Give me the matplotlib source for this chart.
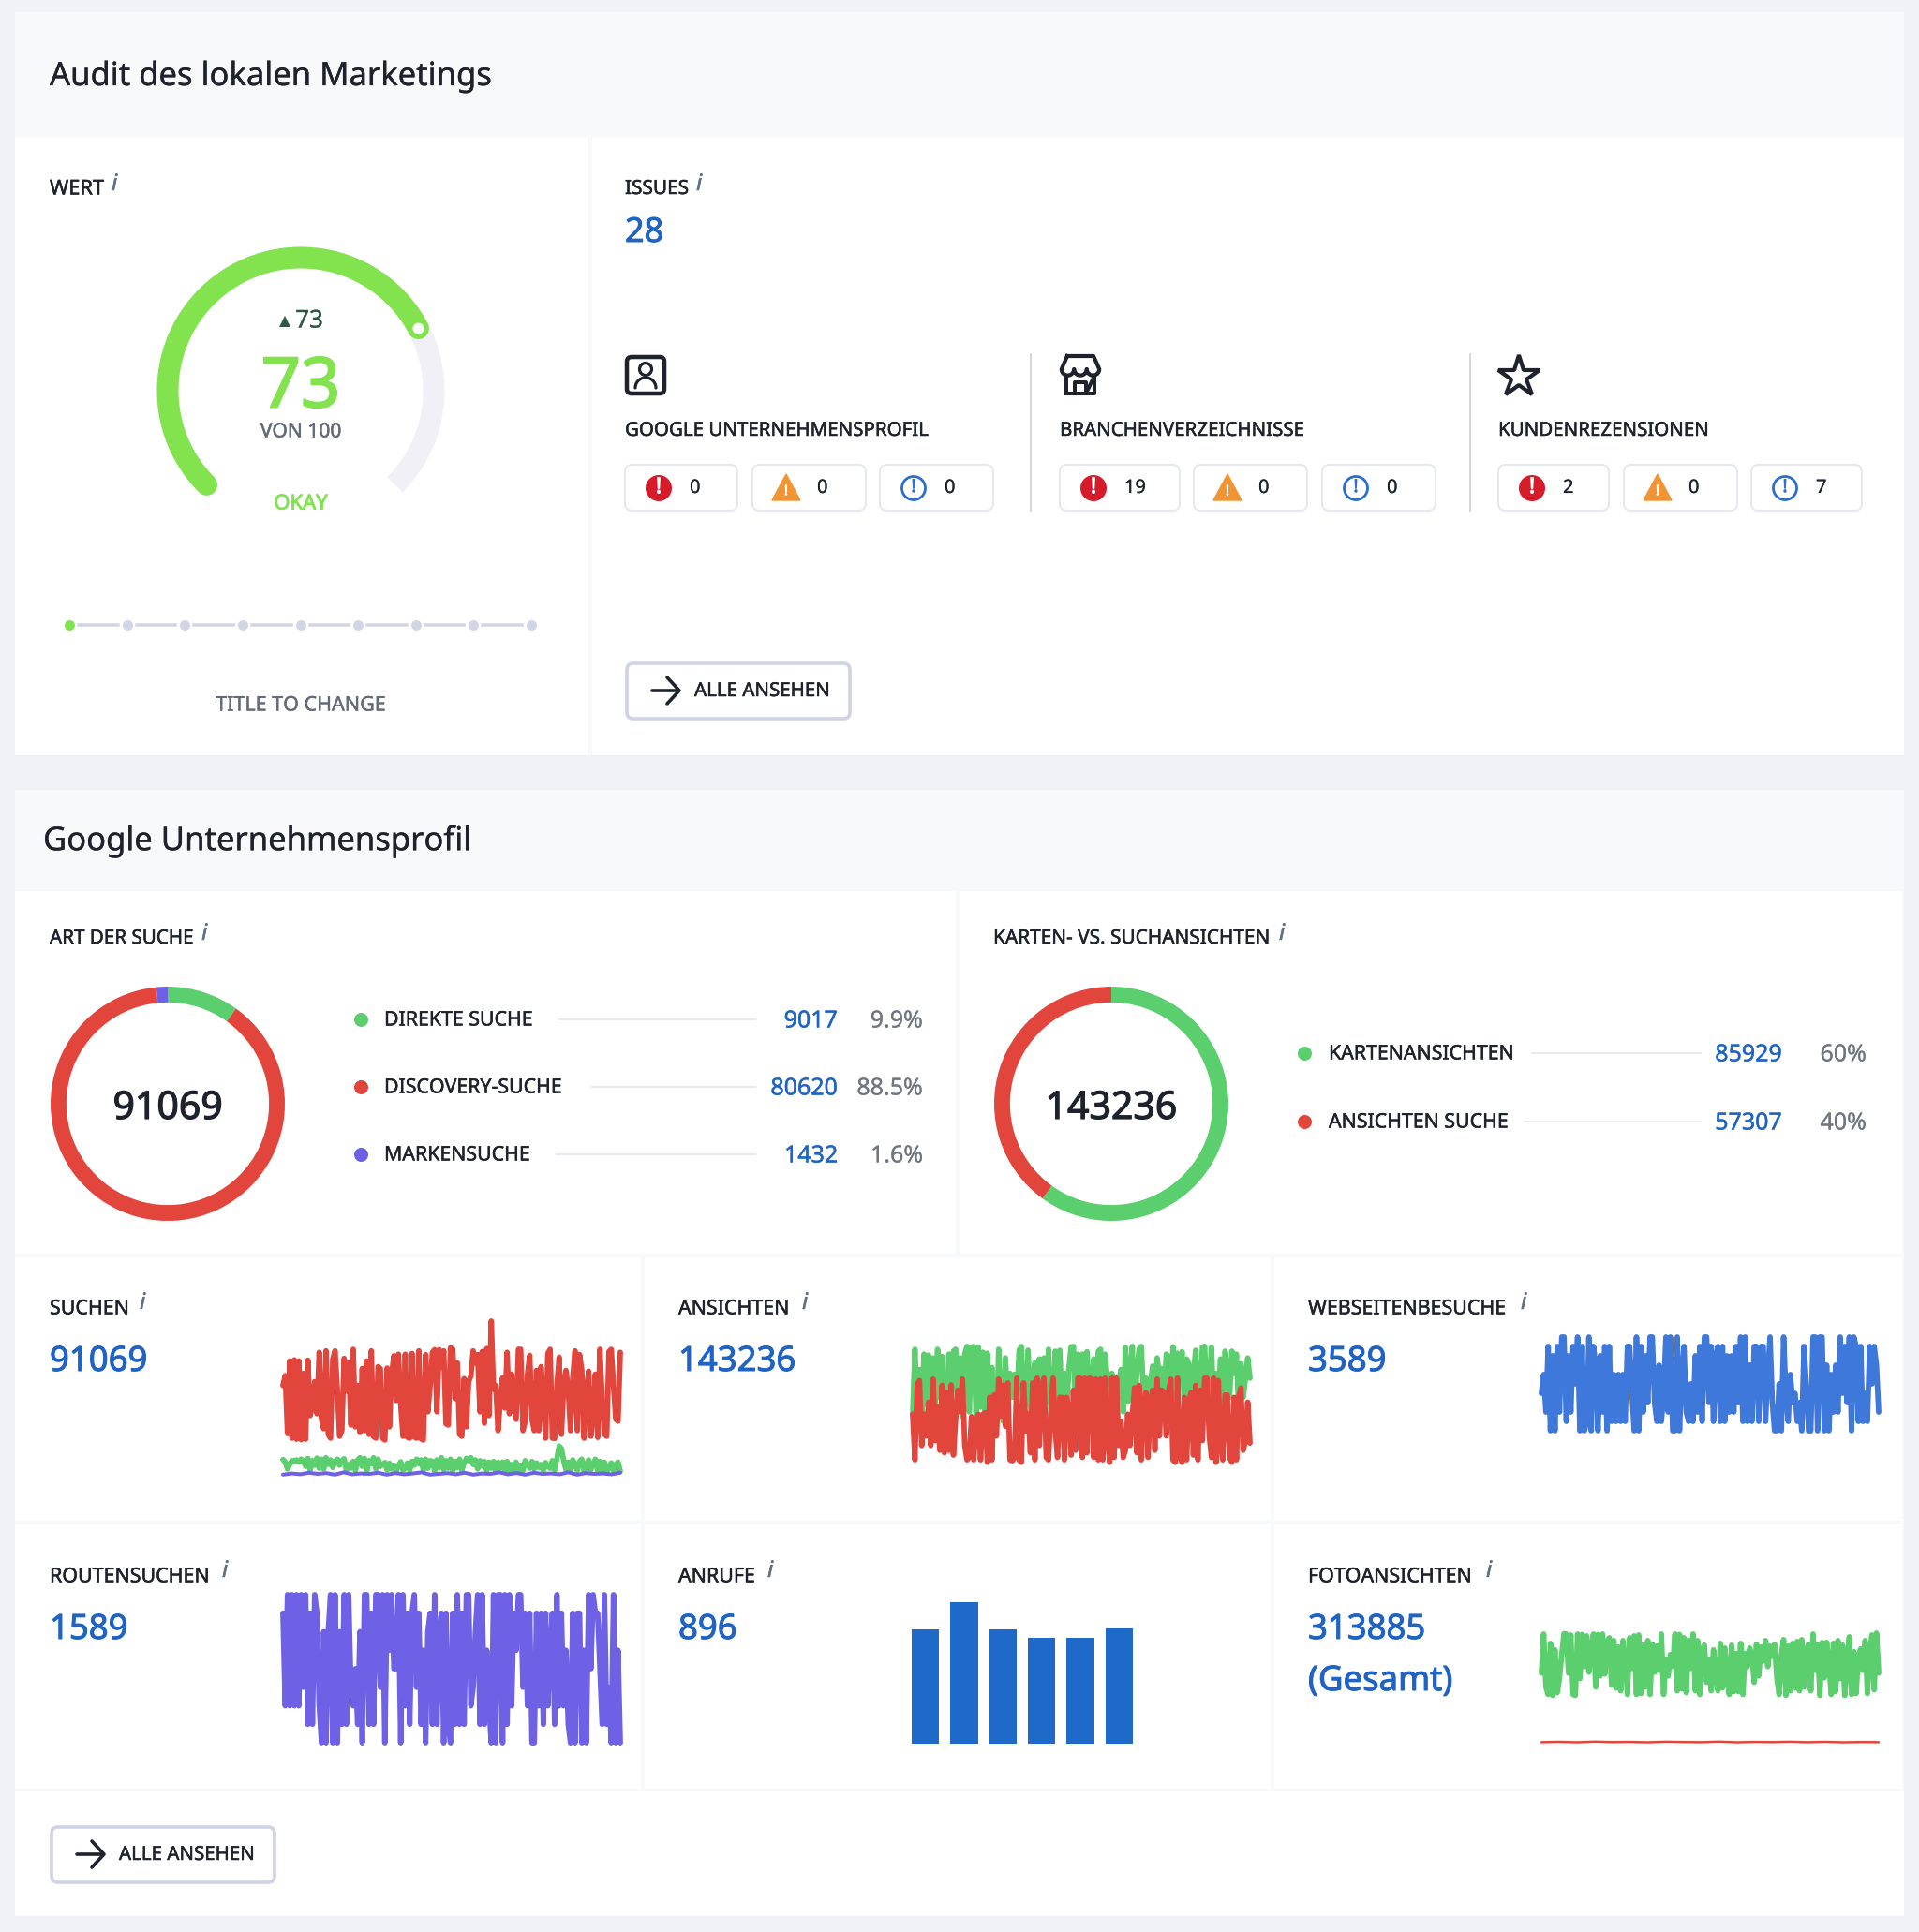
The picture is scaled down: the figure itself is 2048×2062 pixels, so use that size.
# -*- coding: utf-8 -*-
import numpy as np
import matplotlib
matplotlib.use("Agg")
import matplotlib.pyplot as plt
import matplotlib.patheffects as pe
from matplotlib.patches import FancyBboxPatch, Rectangle, Polygon, Circle

plt.rcParams['font.family'] = ['Noto Sans', 'DejaVu Sans']

# ---- data ----
score = 73
score_max = 100
issues_total = 28

issue_groups = ["GOOGLE UNTERNEHMENSPROFIL", "BRANCHENVERZEICHNISSE", "KUNDENREZENSIONEN"]
issue_counts = [[0, 0, 0], [19, 0, 0], [2, 0, 7]]

search_labels = ["DIREKTE SUCHE", "DISCOVERY-SUCHE", "MARKENSUCHE"]
search_values = [9017, 80620, 1432]
search_pct = ["9.9%", "88.5%", "1.6%"]
search_total = 91069

view_labels = ["KARTENANSICHTEN", "ANSICHTEN SUCHE"]
view_values = [85929, 57307]
view_pct = ["60%", "40%"]
view_total = 143236

calls = [147, 182, 147, 136, 136, 148]

searches_discovery = [
    240, 266, 112, 305, 100, 308, 97, 305, 96, 272, 97, 307, 160, 185, 250,
    165, 328, 150, 125, 332, 110, 100, 310, 332, 230, 105, 120, 312, 225, 300,
    135, 336, 130, 240, 115, 285, 120, 305, 110, 332, 104, 100, 290, 285, 100,
    95, 286, 130, 270, 319, 200, 323, 190, 105, 323, 102, 100, 325, 103, 100,
    332, 98, 95, 322, 170, 240, 328, 335, 170, 335, 290, 332, 138, 135, 340,
    336, 205, 300, 110, 105, 258, 130, 250, 265, 332, 300, 322, 170, 330, 140,
    338, 160, 411, 230, 240, 120, 200, 260, 180, 328, 165, 270, 210, 150, 336,
    336, 120, 145, 270, 320, 150, 120, 280, 120, 290, 200, 100, 325, 336, 100,
    99, 240, 315, 110, 240, 280, 230, 120, 260, 332, 120, 322, 280, 100, 220,
    278, 105, 170, 270, 102, 336, 200, 110, 105, 330, 336, 240, 150, 145, 328]
searches_direct = [
    43, 36, 18, 30, 40, 38, 42, 36, 44, 40, 25, 46, 15, 40, 28,
    47, 20, 44, 18, 48, 30, 42, 22, 38, 44, 28, 40, 45, 14, 30,
    20, 38, 14, 42, 48, 25, 46, 12, 40, 32, 48, 18, 44, 25, 30,
    35, 15, 33, 18, 28, 12, 26, 37, 15, 20, 34, 14, 38, 28, 44,
    32, 42, 14, 44, 20, 40, 38, 12, 42, 22, 48, 16, 40, 20, 44,
    12, 38, 22, 44, 14, 34, 46, 40, 48, 30, 42, 18, 40, 26, 38,
    14, 36, 20, 38, 12, 36, 20, 36, 14, 38, 12, 30, 16, 36, 12,
    28, 14, 40, 30, 20, 38, 18, 34, 22, 30, 14, 35, 25, 20, 40,
    14, 45, 79, 72, 40, 16, 36, 14, 42, 30, 14, 38, 44, 12, 28,
    42, 16, 30, 44, 14, 38, 10, 36, 12, 20, 34, 14, 30, 36, 12]
searches_brand = [3, 6, 4, 8, 5, 7, 3, 9, 4, 6, 5, 8, 3, 7, 4, 6, 9, 3, 5, 7,
                  4, 8, 3, 6, 5, 9, 4, 7, 3, 8, 5, 6, 4, 9, 3, 7, 5, 6, 4, 8]

views_maps = [
    165, 300, 180, 258, 170, 290, 185, 288, 190, 282, 175, 300, 200, 285, 190,
    170, 290, 190, 296, 300, 175, 282, 160, 290, 306, 170, 304, 306, 165, 305,
    180, 294, 170, 292, 160, 262, 150, 140, 300, 180, 150, 282, 170, 250, 200,
    248, 190, 298, 306, 170, 200, 298, 160, 240, 272, 170, 280, 180, 282, 190,
    300, 165, 180, 296, 190, 298, 170, 250, 170, 260, 305, 306, 170, 290, 190,
    290, 210, 295, 170, 240, 280, 170, 296, 300, 200, 290, 240, 200, 250, 190,
    180, 230, 258, 170, 304, 190, 250, 306, 170, 250, 300, 306, 200, 240, 180,
    230, 265, 180, 282, 240, 260, 175, 290, 285, 180, 305, 200, 292, 240, 295,
    180, 280, 270, 150, 245, 298, 170, 220, 305, 306, 170, 235, 304, 180, 250,
    200, 280, 180, 296, 260, 200, 296, 250, 290, 175, 270, 200, 240, 282, 240]
views_search = [
    165, 70, 226, 235, 100, 165, 120, 190, 100, 238, 110, 180, 90, 225, 85,
    210, 90, 226, 80, 155, 215, 170, 238, 100, 70, 75, 160, 70, 150, 165,
    70, 165, 168, 65, 200, 70, 205, 120, 238, 160, 225, 140, 230, 70, 68,
    75, 240, 70, 65, 230, 130, 165, 85, 230, 70, 240, 100, 225, 240, 75,
    70, 165, 240, 130, 75, 200, 200, 70, 200, 175, 80, 215, 90, 240, 240,
    75, 240, 85, 240, 238, 75, 238, 70, 238, 70, 240, 120, 65, 240, 75,
    240, 100, 150, 75, 90, 165, 100, 160, 220, 85, 225, 70, 190, 210, 75,
    190, 215, 90, 238, 120, 215, 210, 120, 210, 238, 70, 65, 240, 75, 65,
    200, 70, 190, 210, 80, 225, 70, 215, 110, 240, 240, 120, 75, 240, 65,
    235, 100, 70, 205, 205, 75, 65, 200, 70, 200, 220, 90, 110, 190, 105]

website_visits = [
    9, 11, 7, 14, 5, 13, 5, 14, 7, 15, 15, 6, 13, 7, 14,
    10, 15, 5, 14, 5, 6, 15, 5, 14, 12, 5, 13, 7, 14, 5,
    14, 6, 11, 6, 11, 6, 11, 6, 14, 14, 9, 5, 15, 5, 14,
    7, 13, 8, 15, 15, 8, 6, 12, 6, 9, 15, 7, 15, 5, 5,
    15, 5, 11, 14, 7, 6, 10, 6, 13, 7, 14, 6, 15, 15, 8,
    14, 6, 13, 14, 6, 14, 6, 13, 7, 13, 7, 14, 8, 15, 6,
    15, 6, 12, 6, 14, 14, 6, 14, 14, 6, 11, 15, 8, 5, 5,
    10, 5, 15, 9, 6, 11, 8, 9, 6, 8, 5, 14, 10, 5, 5,
    15, 15, 5, 15, 15, 5, 12, 5, 11, 7, 12, 7, 15, 9, 14,
    8, 15, 5, 15, 14, 6, 14, 6, 9, 6, 14, 10, 14, 12, 7]

route_searches = [
    7, 2, 8, 2, 8, 2, 8, 2, 8, 3, 8, 1, 7, 1, 8,
    7, 2, 0, 6, 0, 6, 8, 0, 8, 0, 6, 1, 8, 1, 8,
    3, 2, 4, 1, 6, 0, 8, 8, 1, 7, 1, 8, 8, 3, 8,
    0, 8, 5, 8, 4, 4, 8, 0, 8, 2, 7, 1, 7, 8, 3,
    7, 1, 5, 0, 6, 7, 1, 8, 1, 6, 7, 0, 7, 1, 0,
    7, 1, 8, 1, 7, 1, 8, 8, 2, 3, 6, 8, 1, 8, 1,
    5, 2, 0, 8, 0, 8, 8, 0, 8, 1, 8, 2, 7, 5, 8,
    8, 3, 7, 2, 7, 0, 0, 7, 2, 7, 1, 7, 2, 5, 7,
    1, 8, 2, 7, 2, 5, 1, 0, 7, 0, 7, 7, 0, 5, 0,
    8, 4, 8, 7, 7, 4, 1, 8, 1, 3, 0, 8, 0, 5, 0]

photo_views = [
    750, 1170, 600, 520, 1070, 510, 1000, 540, 700, 950, 1175, 1170, 750, 1160, 520,
    510, 1170, 690, 1165, 820, 1150, 760, 1020, 1170, 600, 1165, 720, 1170, 740, 1090,
    1130, 620, 1100, 590, 1030, 560, 1100, 900, 520, 1130, 800, 1150, 520, 1160, 530,
    1050, 600, 1100, 520, 1060, 760, 1040, 780, 1170, 520, 900, 720, 950, 820, 1170,
    560, 1165, 580, 1130, 540, 1100, 800, 1170, 560, 1100, 520, 1010, 1050, 650, 900,
    560, 1000, 700, 560, 1070, 590, 1020, 700, 520, 1050, 550, 960, 550, 1070, 520,
    960, 820, 1020, 960, 650, 1060, 720, 1030, 880, 1100, 820, 1040, 930, 1060, 700,
    520, 950, 1110, 510, 1040, 560, 1070, 590, 1090, 560, 1110, 600, 1000, 1060, 560,
    1170, 780, 1050, 510, 1080, 700, 1080, 880, 520, 1070, 550, 1100, 690, 1050, 510,
    900, 1140, 520, 980, 530, 920, 1010, 780, 1100, 530, 960, 1160, 570, 1180, 750]
photo_other = [6, 10, 5, 12, 7, 9, 5, 11, 8, 6, 12, 5, 9, 7, 11, 6, 10, 5, 8, 6]

# ---- colours ----
BG = "#F1F2F8"
HEADER = "#F8F9FB"
INK = "#1E222C"
GREY = "#636B78"
BLUE = "#1F63C4"
GREEN = "#5BCE6D"
RED = "#E2453C"
PURPLE = "#6E61E6"
LINE_BLUE = "#3F78DB"
BAR_BLUE = "#1F6AC9"
GAUGE = "#82E34F"

W, H = 2048, 2062
fig = plt.figure(figsize=(W / 100, H / 100), dpi=100, facecolor=BG)
page = fig.add_axes([0, 0, 1, 1])
page.set_xlim(0, W)
page.set_ylim(H, 0)
page.axis("off")


def px(v):
    # pixels to points, the figure is at 100 dpi
    return v * 0.72


def txt(x, y, s, size, color=INK, ha="left", bold=0, **kw):
    # bold thickens the glyphs a bit, the reference uses a medium weight
    t = page.text(x, y + 4, s, fontsize=px(size), color=color, ha=ha, va="center", **kw)
    if bold:
        t.set_path_effects([pe.withStroke(linewidth=px(bold), foreground=color)])


def box(x0, y0, x1, y1, color="white"):
    page.add_patch(Rectangle((x0, y0), x1 - x0, y1 - y0, fc=color, ec="none"))


def rounded(x0, y0, x1, y1, edge, lw, rad=8):
    page.add_patch(FancyBboxPatch((x0, y0), x1 - x0, y1 - y0, boxstyle=f"round,pad=0,rounding_size={rad}",
                                  fc="white", ec=edge, lw=px(lw)))


def sub_axes(x0, y0, x1, y1):
    ax = fig.add_axes([x0 / W, 1 - y1 / H, (x1 - x0) / W, (y1 - y0) / H])
    ax.axis("off")
    return ax


def info(x, y):
    txt(x, y - 2, "i", 24, color="#5D7183", style="italic", bold=0.5)


def series(ax, values, color, lw=5.8):
    days = np.linspace(0, 1, len(values))
    ax.plot(days, values, color=color, lw=px(lw), clip_on=False, solid_joinstyle="round", solid_capstyle="round")
    ax.set_xlim(0, 1)


def button(x0, y0):
    rounded(x0 + 2, y0 + 2, x0 + 240, y0 + 61, "#CFD3E3", 3.6, rad=7)
    ym = y0 + 31
    page.plot([x0 + 29, x0 + 57], [ym, ym], color=INK, lw=px(3.6), solid_capstyle="round")
    page.plot([x0 + 45, x0 + 58, x0 + 45], [ym - 14, ym, ym + 14], color=INK, lw=px(3.6),
              solid_capstyle="round", solid_joinstyle="round")
    txt(x0 + 74, ym - 3, "ALLE ANSEHEN", 20.5, bold=0.5)


# ---- card backgrounds ----
box(16, 13, 2032, 806, HEADER)
box(16, 146, 627, 806)
box(632, 146, 2032, 806)
box(16, 843, 2032, 2045, HEADER)
box(16, 951, 1020, 1338)
box(1024, 951, 2030, 1338)
for y0, y1 in [(1342, 1623), (1627, 1909)]:
    box(16, y0, 684, y1)
    box(688, y0, 1356, y1)
    box(1360, y0, 2030, y1)
box(16, 1912, 2032, 2045)

txt(53, 78, "Audit des lokalen Marketings", 34.6, bold=0.3)
txt(46, 894, "Google Unternehmensprofil", 34.6, bold=0.3)

# ---- score gauge ----
txt(53, 198, "WERT", 21.8, bold=0.5)
info(119, 195)
cx, cy, r = 321, 417, 142
start, end = 225, -45
track = np.radians(np.linspace(start, end, 200))
page.plot(cx + r * np.cos(track), cy - r * np.sin(track), color="#F0F0F6", lw=px(23), solid_capstyle="butt")
stop = start + (end - start) * score / score_max
arc = np.radians(np.linspace(start, stop, 200))
page.plot(cx + r * np.cos(arc), cy - r * np.sin(arc), color=GAUGE, lw=px(23), solid_capstyle="round")
page.add_patch(Circle((cx + r * np.cos(arc[-1]), cy - r * np.sin(arc[-1])), 6, fc="white", ec="none", zorder=4))
page.plot([304], [343], marker="^", ms=px(12), color="#2E5A44", mew=0)
txt(330, 339, str(score), 26, color="#2E5A44", ha="center", bold=0.3)
txt(321, 411, str(score), 74, color=GAUGE, ha="center", bold=2)
txt(321, 457, f"VON {score_max}", 21, color=GREY, ha="center", bold=0.5)
txt(321, 534, "OKAY", 22, color=GAUGE, ha="center", bold=0.9)

dots = np.linspace(74, 567, 9)
for i, x in enumerate(dots):
    page.plot([x], [667], marker="o", ms=px(11), color=GAUGE if i == 0 else "#D2D5E4", mew=0)
    if i < len(dots) - 1:
        page.plot([x + 10, dots[i + 1] - 10], [667, 667], color="#D2D5E4", lw=px(3.5))
txt(321, 749, "TITLE TO CHANGE", 21.5, color=GREY, ha="center", bold=0.4)

# ---- issues ----
txt(667, 198, "ISSUES", 20.8, bold=0.5)
info(743, 195)
txt(667, 245, str(issues_total), 36, color=BLUE, bold=1)

group_x = [667, 1131, 1599]
box_x = [[(667, 787), (803, 924), (939, 1060)],
         [(1131, 1259), (1274, 1395), (1411, 1532)],
         [(1599, 1717), (1733, 1854), (1869, 1987)]]
for gx in [1100, 1569]:
    page.plot([gx, gx], [378, 545], color="#D5D8E3", lw=px(2))

for g, name in enumerate(issue_groups):
    txt(group_x[g], 456, name, 20.5, bold=0.5)
    for k, (x0, x1) in enumerate(box_x[g]):
        rounded(x0, 496, x1, 545, "#E6E8F0", 2, rad=8)
        ix = x0 + 36
        if k == 0:
            page.add_patch(Circle((ix, 521), 14, fc="#D61B2B", ec="none"))
            txt(ix, 516, "!", 23, color="white", ha="center", bold=1.2)
        elif k == 1:
            page.add_patch(Polygon([(ix - 15, 534), (ix + 15, 534), (ix, 506)], fc="#F19534", ec="#F19534", lw=1))
            txt(ix, 521, "!", 15, color="white", ha="center", bold=0.8)
        else:
            page.add_patch(Circle((ix, 521), 12.5, fc="white", ec="#2B6FCB", lw=px(2.8)))
            txt(ix, 516, "!", 19, color="#2B6FCB", ha="center", bold=0.8)
        txt(x0 + 69, 517, str(issue_counts[g][k]), 20, bold=0.2)

# person icon
rounded(669, 381, 709, 420, INK, 4.5, rad=5)
page.add_patch(Circle((689, 394), 6.5, fc="none", ec=INK, lw=px(3.2)))
body = np.radians(np.linspace(180, 0, 30))
page.plot(689 + 11 * np.cos(body), 414 - 11 * np.sin(body), color=INK, lw=px(3.2), solid_capstyle="round")
# shop icon
bump = np.radians(np.linspace(0, 180, 12))
awning_x = [1139, 1167]
awning_y = [380, 380]
for c in (1166.5, 1153, 1139.5):
    awning_x += list(c + 6.7 * np.cos(bump))
    awning_y += list(394 + 6.7 * np.sin(bump))
awning_x.append(1139)
awning_y.append(380)
page.plot(awning_x, awning_y, color=INK, lw=px(4.2), solid_joinstyle="round")
page.plot([1138, 1138, 1168, 1168, 1159, 1159, 1147, 1147, 1138],
          [401, 420, 420, 401, 420, 408, 408, 420, 420], color=INK, lw=px(4), solid_joinstyle="round")
# star icon
page.plot([1621], [402], marker="*", ms=px(46), mfc="none", mec=INK, mew=px(4.2))

button(667, 706)

# ---- donut panels ----
txt(53, 998, "ART DER SUCHE", 20.6, bold=0.5)
info(215, 995)
txt(1060, 998, "KARTEN- VS. SUCHANSICHTEN", 20.8, bold=0.5)
info(1365, 995)


def donut(cx, cy, values, colors, total):
    ax = sub_axes(cx - 125, cy - 125, cx + 125, cy + 125)
    ax.pie(values, colors=colors, startangle=90, counterclock=False, radius=1,
           wedgeprops={"width": 0.135, "linewidth": 0})
    ax.set_xlim(-1, 1)
    ax.set_ylim(-1, 1)
    txt(cx, cy + 1, str(total), 41, ha="center", bold=1.2)


donut(179, 1178, search_values, [GREEN, RED, PURPLE], search_total)
donut(1186, 1178, view_values, [GREEN, RED], view_total)


def legend_rows(x_dot, x_label, line_starts, line_end, x_value, x_pct, rows_y, labels, values, pcts, colors):
    for i, label in enumerate(labels):
        y = rows_y[i]
        page.plot([x_dot], [y], marker="o", ms=px(15), color=colors[i], mew=0)
        txt(x_label, y - 3, label, 21.3, bold=0.5)
        page.plot([line_starts[i], line_end], [y, y], color="#E9EAF1", lw=px(2))
        txt(x_value, y - 2, str(values[i]), 25, color=BLUE, ha="right", bold=0.4)
        txt(x_pct, y - 2, pcts[i], 25, color="#6F7680", ha="right", bold=0.2)


legend_rows(385, 410, [597, 631, 594], 806, 894, 985, [1088, 1160, 1232],
            search_labels, search_values, search_pct, [GREEN, RED, PURPLE])
legend_rows(1392, 1418, [1635, 1627], 1815, 1902, 1992, [1124, 1197],
            view_labels, view_values, view_pct, [GREEN, RED])

# ---- metric panels ----
panels = [(53, 1393, "SUCHEN", 149, str(search_total)), (724, 1393, "ANSICHTEN", 856, str(view_total)),
          (1396, 1393, "WEBSEITENBESUCHE", 1623, "3589"), (53, 1679, "ROUTENSUCHEN", 237, "1589"),
          (724, 1679, "ANRUFE", 819, "896"), (1396, 1679, "FOTOANSICHTEN", 1586, "313885")]
for x, y, name, ix, value in panels:
    txt(x, y, name, 21.4, bold=0.5)
    info(ix, y - 4)
    txt(x, y + 57, value, 36.5, color=BLUE, bold=1)
txt(1396, 1791, "(Gesamt)", 36.5, color=BLUE, bold=1)

ax = sub_axes(302, 1410, 662, 1575)
ax.set_ylim(0, 411)
series(ax, searches_direct, GREEN)
series(ax, searches_brand, PURPLE, lw=4)
series(ax, searches_discovery, RED)

ax = sub_axes(974, 1437, 1334, 1594)
ax.set_ylim(0, 306)
series(ax, views_maps, GREEN)
series(ax, views_search, RED)

ax = sub_axes(1645, 1427, 2005, 1577)
ax.set_ylim(0, 15)
series(ax, website_visits, LINE_BLUE)

ax = sub_axes(302, 1702, 662, 1860)
ax.set_ylim(0, 8)
series(ax, route_searches, PURPLE)

ax = sub_axes(973, 1710, 1209, 1861)
ax.bar(range(len(calls)), calls, width=0.71, color=BAR_BLUE)
ax.set_xlim(-0.355, len(calls) - 1 + 0.355)
ax.set_ylim(0, max(calls))

ax = sub_axes(1645, 1743, 2005, 1860)
ax.set_ylim(0, 1180)
series(ax, photo_views, GREEN)
series(ax, photo_other, RED, lw=2.5)

button(53, 1948)

fig.savefig("out.png", dpi=100, facecolor=BG)
